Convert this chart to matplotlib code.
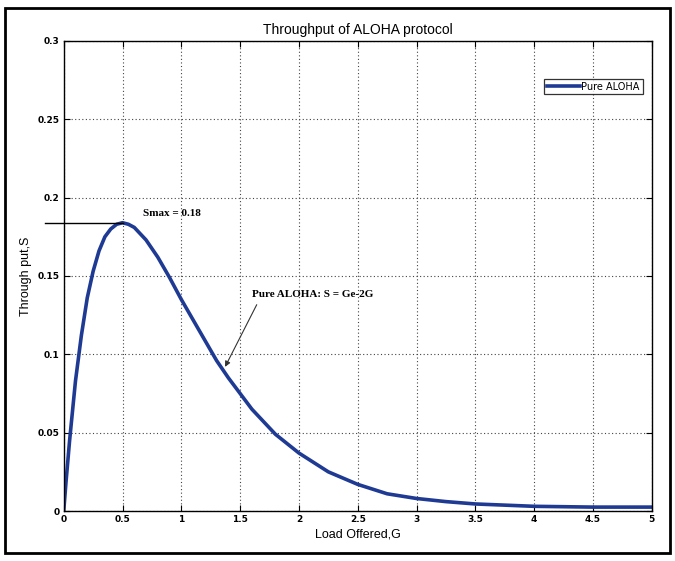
import matplotlib
matplotlib.use("Agg")
import matplotlib.pyplot as plt
from matplotlib.patches import Rectangle

# Data
load_G = [0, 0.02, 0.05, 0.1, 0.15, 0.2, 0.25, 0.3, 0.35, 0.4, 0.45, 0.5, 0.55,
          0.6, 0.7, 0.8, 0.9, 1.0, 1.1, 1.2, 1.3, 1.4, 1.5, 1.6, 1.8, 2.0,
          2.25, 2.5, 2.75, 3.0, 3.25, 3.5, 4.0, 4.5, 5.0]
throughput_S = [0, 0.019, 0.045, 0.083, 0.112, 0.136, 0.153, 0.166, 0.175,
                0.180, 0.183, 0.184, 0.183, 0.181, 0.173, 0.162, 0.149, 0.135,
                0.122, 0.109, 0.096, 0.085, 0.075, 0.065, 0.049, 0.037, 0.025,
                0.017, 0.011, 0.008, 0.006, 0.0045, 0.003, 0.0025, 0.0025]
x_ticks = [0, 0.5, 1, 1.5, 2, 2.5, 3, 3.5, 4, 4.5, 5]
x_tick_labels = ["0", "0.5", "1", "1.5", "2", "2.5", "3", "3.5", "4", "4.5", "5"]
y_ticks = [0, 0.05, 0.1, 0.15, 0.2, 0.25, 0.3]
y_tick_labels = ["0", "0.05", "0.1", "0.15", "0.2", "0.25", "0.3"]
smax_G = 0.5
smax_S = 0.184

fig = plt.figure(figsize=(6.75, 5.61), dpi=100)
fig.patch.set_facecolor("white")
ax = fig.add_axes([0.0944, 0.0891, 0.8711, 0.8379])

ax.plot(load_G, throughput_S, color="#1f3a93", linewidth=2.6, label="Pure ALOHA")

ax.set_xlim(0, 5)
ax.set_ylim(0, 0.3)
ax.set_xticks(x_ticks)
ax.set_xticklabels(x_tick_labels)
ax.set_yticks(y_ticks)
ax.set_yticklabels(y_tick_labels)
ax.tick_params(direction="in", length=4, width=0.8, labelsize=6.5, pad=3,
               top=True, right=True)
for lab in ax.get_xticklabels() + ax.get_yticklabels():
    lab.set_fontweight("bold")
ax.grid(True, color="#444444", linestyle=(0, (1, 2.2)), linewidth=0.8)
for sp in ax.spines.values():
    sp.set_linewidth(1.0)
    sp.set_color("black")

ax.set_title("Throughput of ALOHA protocol", fontsize=10, pad=5,
             family="Liberation Sans")
ax.set_xlabel("Load Offered,G", fontsize=9, labelpad=3, family="Liberation Sans")
ax.set_ylabel("Through put,S", fontsize=9, labelpad=4, family="Liberation Sans")

# Smax horizontal marker
ax.plot([-0.16, smax_G], [smax_S, smax_S], color="black", linewidth=1.0,
        clip_on=False)
ax.text(0.675, 0.190, "Smax = 0.18", fontsize=8, fontweight="bold",
        family="Liberation Serif", va="center", ha="left")

ax.annotate("Pure ALOHA: S = Ge-2G", xy=(1.372, 0.092), xytext=(1.60, 0.138),
            fontsize=8, fontweight="bold", family="Liberation Serif",
            va="center", ha="left",
            arrowprops=dict(arrowstyle="-|>", color="#333333", lw=0.8,
                            mutation_scale=8, shrinkA=0, shrinkB=0,
                            relpos=(0.04, -0.6)))

leg = ax.legend(loc="upper right", bbox_to_anchor=(0.9845, 0.9198), fontsize=7,
                frameon=True, fancybox=False, edgecolor="black",
                handlelength=3.4, handletextpad=0.1, borderpad=0.3,
                borderaxespad=0)
leg.get_frame().set_linewidth(0.9)

# Outer frame around the figure
fig.patches.append(Rectangle((0.008, 0.014), 0.985, 0.972, transform=fig.transFigure,
                             fill=False, edgecolor="black", linewidth=2.0))

fig.savefig("out.png", dpi=100, facecolor="white")
